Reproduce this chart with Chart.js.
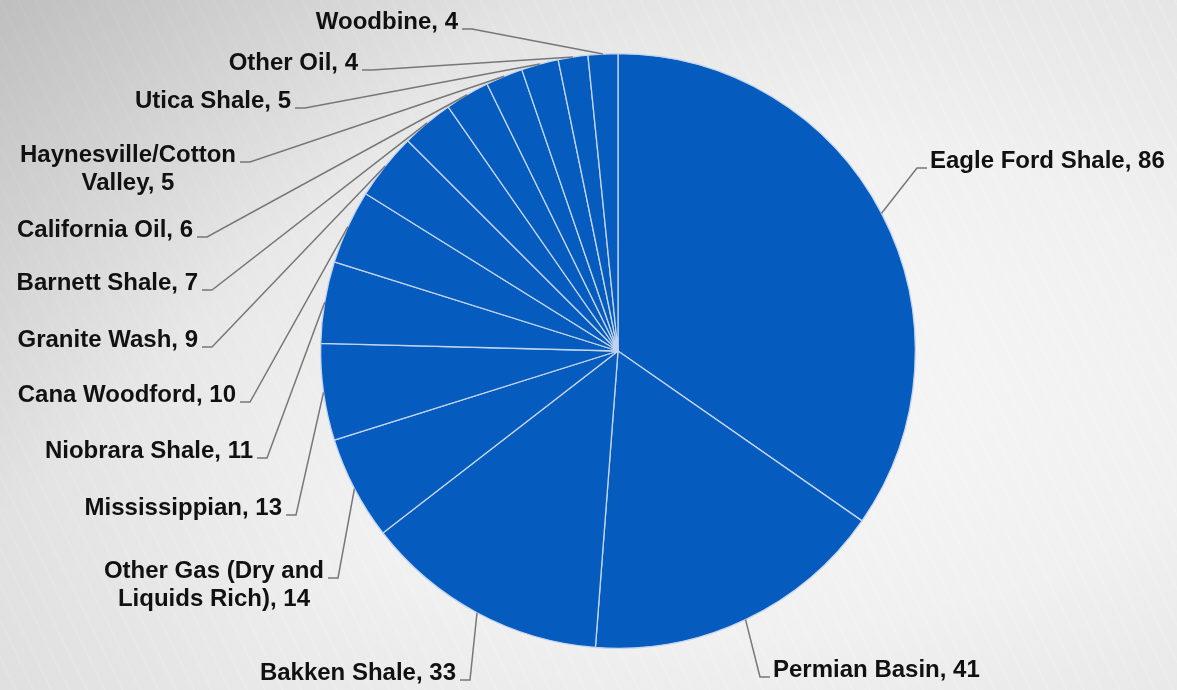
<!DOCTYPE html>
<html>
<head>
<meta charset="utf-8">
<script src="https://cdn.jsdelivr.net/npm/chart.js@4/dist/chart.umd.min.js"></script>
<style>
  html, body { margin: 0; padding: 0; }
  body {
    width: 1177px; height: 690px; overflow: hidden;
    background:
      linear-gradient(135deg, rgba(150,150,150,0.45) 0%, rgba(190,190,190,0.15) 28%, rgba(255,255,255,0) 50%),
      repeating-linear-gradient(64deg, rgba(255,255,255,0) 0px, rgba(255,255,255,0) 13px, rgba(255,255,255,0.18) 14px, rgba(255,255,255,0) 16px),
      radial-gradient(ellipse at 62% 55%, #f6f6f6 0%, #f1f1f1 45%, #e0e0e0 100%);
  }
  #wrap { position: absolute; left: 0; top: 0; width: 1177px; height: 690px; }
</style>
</head>
<body>
<div id="wrap"><canvas id="playsChart" width="1177" height="690"></canvas></div>
<script>
// plays and their counts, clockwise from 12 o'clock
const plays = [
  'Eagle Ford Shale', 'Permian Basin', 'Bakken Shale',
  'Other Gas (Dry and Liquids Rich)', 'Mississippian', 'Niobrara Shale',
  'Cana Woodford', 'Granite Wash', 'Barnett Shale', 'California Oil',
  'Haynesville/Cotton Valley', 'Utica Shale', 'Other Oil', 'Woodbine'
];
const counts = [86, 41, 33, 14, 13, 11, 10, 9, 7, 6, 5, 5, 4, 4];

// where each label's leader line attaches, and which side the text sits on
const labelSpots = [
  { x: 927, y: 168, side: 'right' },
  { x: 770, y: 677, side: 'right' },
  { x: 460, y: 680, side: 'left' },
  { x: 328, y: 578, side: 'left', wrap: 235 },
  { x: 286, y: 515, side: 'left' },
  { x: 257, y: 458, side: 'left' },
  { x: 240, y: 402, side: 'left' },
  { x: 202, y: 347, side: 'left' },
  { x: 202, y: 290, side: 'left' },
  { x: 197, y: 237, side: 'left' },
  { x: 240, y: 162, side: 'left', wrap: 235 },
  { x: 295, y: 108, side: 'left' },
  { x: 362, y: 70, side: 'left' },
  { x: 462, y: 29, side: 'left' }
];

const FONT = 'bold 24px "Liberation Sans", Arial, sans-serif';

function wrapText(ctx, text, maxW) {
  if (!maxW) return [text];
  const words = text.split(' ');
  const lines = [];
  let cur = '';
  for (const w of words) {
    const test = cur ? cur + ' ' + w : w;
    if (cur && ctx.measureText(test).width > maxW) {
      lines.push(cur);
      cur = w;
    } else {
      cur = test;
    }
  }
  if (cur) lines.push(cur);
  return lines;
}

// data labels with leader lines out to the middle of each slice's rim
const leaderLabels = {
  id: 'leaderLabels',
  afterDatasetsDraw(chart) {
    const ctx = chart.ctx;
    const meta = chart.getDatasetMeta(0);
    ctx.save();
    ctx.font = FONT;
    meta.data.forEach((arc, i) => {
      const spot = labelSpots[i];
      const p = arc.getProps(['x', 'y', 'startAngle', 'endAngle', 'outerRadius'], true);
      const mid = (p.startAngle + p.endAngle) / 2;
      const ex = p.x + Math.cos(mid) * p.outerRadius;
      const ey = p.y + Math.sin(mid) * p.outerRadius;
      const elbow = spot.side === 'left' ? spot.x + 10 : spot.x - 10;

      ctx.strokeStyle = '#777777';
      ctx.lineWidth = 1.5;
      ctx.beginPath();
      ctx.moveTo(spot.x, spot.y);
      ctx.lineTo(elbow, spot.y);
      ctx.lineTo(ex, ey);
      ctx.stroke();

      const text = plays[i] + ', ' + counts[i];
      const lines = wrapText(ctx, text, spot.wrap);
      const widest = Math.max(...lines.map(l => ctx.measureText(l).width));
      ctx.fillStyle = '#111111';
      ctx.textBaseline = 'middle';
      lines.forEach((line, k) => {
        const ty = spot.y - 7 + k * 28;
        if (lines.length > 1) {
          const cx = spot.side === 'left' ? spot.x - 4 - widest / 2 : spot.x + 4 + widest / 2;
          ctx.textAlign = 'center';
          ctx.fillText(line, cx, ty);
        } else if (spot.side === 'left') {
          ctx.textAlign = 'right';
          ctx.fillText(line, spot.x - 4, ty);
        } else {
          ctx.textAlign = 'left';
          ctx.fillText(line, spot.x + 3, ty);
        }
      });
    });
    ctx.restore();
  }
};

new Chart(document.getElementById('playsChart'), {
  type: 'pie',
  data: {
    labels: plays,
    datasets: [{
      data: counts,
      backgroundColor: '#065cbe',
      borderColor: '#c4d5ee',
      borderWidth: 1.3
    }]
  },
  options: {
    responsive: false,
    animation: false,
    devicePixelRatio: 1,
    events: [],
    layout: { padding: { left: 320, right: 261, top: 52, bottom: 40 } },
    plugins: {
      legend: { display: false },
      tooltip: { enabled: false }
    }
  },
  plugins: [leaderLabels]
});
</script>
</body>
</html>
